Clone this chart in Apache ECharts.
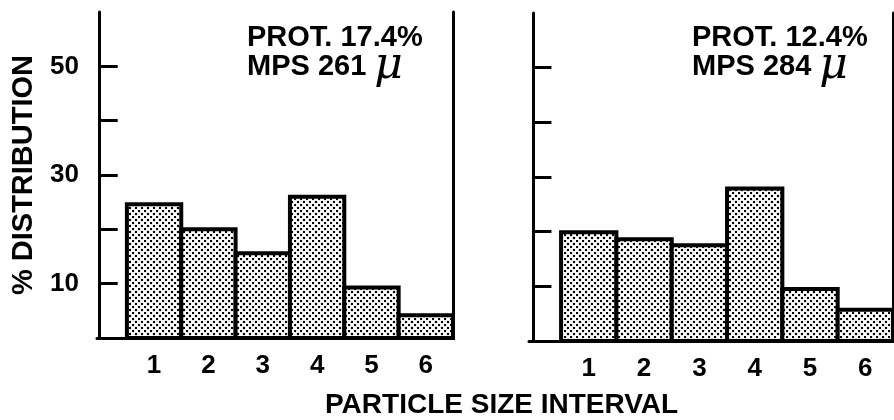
<!DOCTYPE html>
<html>
<head>
<meta charset="utf-8">
<script src="https://cdn.jsdelivr.net/npm/echarts@6/dist/echarts.min.js"></script>
<style>
html,body{margin:0;padding:0;background:#fff;}
#container{width:894px;height:420px;}
</style>
</head>
<body>
<div id="container"></div>
<script>
var intervals = [1, 2, 3, 4, 5, 6];
var leftValues = [24.6, 20.0, 15.6, 26.0, 9.3, 4.2];   // PROT. 17.4%
var rightValues = [19.9, 18.6, 17.5, 27.9, 9.5, 5.7];  // PROT. 12.4%
var yTicks = [10, 20, 30, 40, 50];
var yLabels = [10, 30, 50];
var leftNote = ['PROT. 17.4%', 'MPS 261'];
var rightNote = ['PROT. 12.4%', 'MPS 284'];

var FONT = 'Liberation Sans';

function dotPattern(){
	var c = document.createElement('canvas');
	c.width = 6; c.height = 6;
	var ctx = c.getContext('2d');
	ctx.fillStyle = '#fff';
	ctx.fillRect(0, 0, 6, 6);
	ctx.fillStyle = '#000';
	var pts = [[1, 1], [4, 4]];
	for(var i=0;i<pts.length;i++){
		ctx.beginPath();
		ctx.arc(pts[i][0], pts[i][1], 1.25, 0, Math.PI * 2);
		ctx.fill();
	}
	return c;
}
var pattern = {image: dotPattern(), repeat: 'repeat'};

function renderBar(params, api){
	var x = api.value(0), v = api.value(1);
	var p0 = api.coord([x - 0.5, v]);
	var p1 = api.coord([x + 0.5, 0]);
	return {
		type: 'rect',
		shape: {x: p0[0], y: p0[1], width: p1[0] - p0[0], height: p1[1] - p0[1]},
		style: {fill: pattern, stroke: '#000', lineWidth: 4}
	};
}

function pairs(values){
	var out = [];
	for(var i=0;i<intervals.length;i++){
		out.push([intervals[i], values[i]]);
	}
	return out;
}

function xAxisOf(gridIndex, min){
	return {
		type: 'value', gridIndex: gridIndex, min: min, max: 6.5,
		axisLine: {show: true, lineStyle: {color: '#000', width: 3}},
		axisTick: {show: false},
		splitLine: {show: false},
		axisLabel: {customValues: intervals, margin: 15, color: '#000', fontSize: 26, fontWeight: 'bold', fontFamily: FONT}
	};
}

function yAxisOf(gridIndex, showLabels){
	var axis = {
		type: 'value', gridIndex: gridIndex, min: 0, max: 60, interval: 10, position: 'left',
		axisLine: {show: true, lineStyle: {color: '#000', width: 3}},
		axisTick: {show: true, inside: true, length: 18, customValues: yTicks, lineStyle: {color: '#000', width: 3}},
		splitLine: {show: false},
		axisLabel: {show: showLabels, customValues: yLabels, margin: 18, color: '#000', fontSize: 26, fontWeight: 'bold', fontFamily: FONT}
	};
	if(showLabels){
		axis.name = '% DISTRIBUTION';
		axis.nameLocation = 'middle';
		axis.nameGap = 59;
		axis.nameTextStyle = {color: '#000', fontSize: 29, fontWeight: 'bold', fontFamily: FONT};
	}
	return axis;
}

function frameAxis(gridIndex){
	return {
		type: 'value', gridIndex: gridIndex, min: 0, max: 60, position: 'right',
		axisLine: {show: true, lineStyle: {color: '#000', width: 3}},
		axisTick: {show: false}, axisLabel: {show: false}, splitLine: {show: false}
	};
}

function note(lines, left){
	return {
		left: left, top: 18,
		text: lines[0] + '\n' + lines[1] + ' {mu|μ}',
		textStyle: {
			color: '#000', fontSize: 29, fontWeight: 'bold', fontFamily: FONT, lineHeight: 29,
			rich: {mu: {fontSize: 44, lineHeight: 29, fontStyle: 'italic', fontWeight: 'normal', fontFamily: 'DejaVu Serif', color: '#000'}}
		}
	};
}

var option = {
	animation: false,
	backgroundColor: '#fff',
	title: [
		note(leftNote, 242),
		note(rightNote, 687),
		{left: 320, top: 386, text: 'PARTICLE SIZE INTERVAL',
			textStyle: {color: '#000', fontSize: 28, fontWeight: 'bold', fontFamily: FONT}}
	],
	grid: [
		{left: 97, top: 12, width: 356, height: 326},
		{left: 529, top: 13, width: 364, height: 328}
	],
	xAxis: [xAxisOf(0, -0.05), xAxisOf(1, -0.08)],
	yAxis: [yAxisOf(0, true), frameAxis(0), yAxisOf(1, false), frameAxis(1)],
	series: [
		{type: 'custom', xAxisIndex: 0, yAxisIndex: 0, renderItem: renderBar, data: pairs(leftValues)},
		{type: 'custom', xAxisIndex: 1, yAxisIndex: 2, renderItem: renderBar, data: pairs(rightValues)}
	]
};

var chart = echarts.init(document.getElementById('container'));
chart.setOption(option);
</script>
</body>
</html>
